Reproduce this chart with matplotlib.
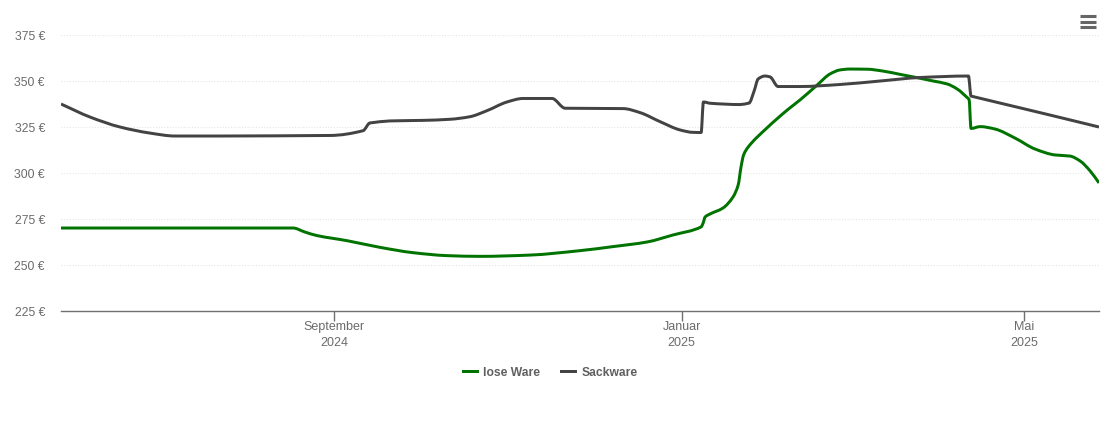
import numpy as np
import matplotlib
matplotlib.use('Agg')
import matplotlib.pyplot as plt
import matplotlib.dates as mdates
from matplotlib.lines import Line2D
from matplotlib.path import Path
from matplotlib.patches import PathPatch

# days relative to 1 Sep 2024, prices in euro
start = np.datetime64('2024-09-01T00:00')

lose_days = [-95.8, -18.9, -14.4, -10.2, -6, 4.6, 16.1, 27.7, 39.6, 51.2, 68.8, 86.3, 97.9, 109.8, 118.9,
	128.8, 129.5, 130.2, 131.9, 136.5, 140, 141.8, 142.8, 143.7, 145.3, 151.9, 159, 163.5, 169.5, 174,
	177.5, 181.1, 187, 192.6, 198.6, 204.6, 210.2, 215.1, 218.6, 222.8, 223.5, 226.7, 231.9, 238.9, 246,
	253, 258.2, 261.8, 265.3, 268.4]
lose_price = [270.1, 270.1, 270.1, 267.9, 266, 263.2, 259.6, 256.7, 255.1, 254.7, 255.4, 257.8, 260, 262.5, 266.3,
	270.7, 272.8, 276.1, 277.7, 281, 287, 293.5, 303.3, 309.8, 314.1, 324.5, 334.2, 339.7, 347.8, 353.8,
	356, 356.5, 356.4, 355.4, 353.6, 351.8, 350, 348.4, 345.7, 340.1, 324.2, 325.2, 323.9, 319, 313,
	309.8, 309.2, 306.5, 301.1, 294.6]

sack_days = [-95.8, -85.6, -75.1, -64.6, -55.8, -40, -1.4, 10.2, 12.6, 19.6, 31.2, 40.7, 47.7, 53.7, 60.7,
	66.3, 76.5, 81.1, 101.4, 107.4, 114.4, 121.4, 125.9, 128.8, 129.6, 132, 142.5, 145.6, 147.4, 148.8,
	151.2, 153, 155.8, 163.5, 177.5, 191.6, 205.6, 222.6, 223.5, 233.7, 251.2, 268.4]
sack_price = [337.5, 330.4, 325, 321.7, 320.1, 320.1, 320.4, 323, 327.2, 328.3, 328.6, 329.2, 330.6, 333.9, 338.6,
	340.5, 340.5, 335.2, 335, 332.8, 327.9, 323.4, 322.1, 322, 338.6, 337.9, 337.2, 338, 344.6, 351.1,
	352.7, 352.2, 347, 347, 348.1, 350, 351.9, 352.7, 341.8, 338, 331.5, 325]

y_ticks = [225, 250, 275, 300, 325, 350, 375]
x_ticks = ['2024-09-01', '2025-01-01', '2025-05-01']
x_labels = ['September\n2024', 'Januar\n2025', 'Mai\n2025']

GREEN = '#007300'
DARK = '#434343'
LINE_W = 2.15

def toDates(days):
	return start + (np.array(days) * 24 * 60).astype('timedelta64[m]')

def smoothPath(days, price):
	# the original uses a spline, so join the read points with monotone bezier pieces
	x = mdates.date2num(toDates(days))
	y = np.array(price, dtype=float)
	h = np.diff(x)
	s = np.diff(y) / h
	m = np.zeros(len(x))
	for i in range(1, len(x) - 1):
		if s[i - 1] * s[i] > 0:
			a, b = sorted([abs(s[i - 1]), abs(s[i])])
			if b > 8 * a:
				# next to a jump: keep the flat side straight
				m[i] = a * np.sign(s[i])
			else:
				m[i] = 2 * s[i - 1] * s[i] / (s[i - 1] + s[i])
	m[0], m[-1] = s[0], s[-1]
	verts = [(x[0], y[0])]
	codes = [Path.MOVETO]
	for i in range(len(h)):
		verts.append((x[i] + h[i] / 3, y[i] + m[i] * h[i] / 3))
		verts.append((x[i + 1] - h[i] / 3, y[i + 1] - m[i + 1] * h[i] / 3))
		verts.append((x[i + 1], y[i + 1]))
		codes += [Path.CURVE4] * 3
	return Path(verts, codes)

plt.rcParams['font.family'] = ['Liberation Sans', 'DejaVu Sans']

W, H = 1110, 422
fig = plt.figure(figsize=(W / 100, H / 100), dpi=100)
ax = fig.add_axes([61 / W, 1 - 311 / H, 1038 / W, 276 / H])

ax.add_patch(PathPatch(smoothPath(lose_days, lose_price), fill=False, edgecolor=GREEN, lw=LINE_W,
	joinstyle='round', zorder=3))
ax.add_patch(PathPatch(smoothPath(sack_days, sack_price), fill=False, edgecolor=DARK, lw=LINE_W,
	joinstyle='round', zorder=3))

ax.set_xlim(toDates([-95.8])[0], toDates([268.4])[0])
ax.set_ylim(225, 375)
for s in ['top', 'left', 'right']:
	ax.spines[s].set_visible(False)
ax.spines['bottom'].set_color('#707070')
ax.spines['bottom'].set_linewidth(1)

ax.set_yticks(y_ticks)
ax.set_yticklabels(['%d €' % v for v in y_ticks], color='#6b6b6b', fontsize=8.8)
ax.tick_params(axis='y', length=0, pad=11.5)
ax.set_xticks([mdates.date2num(np.datetime64(d)) for d in x_ticks])
ax.set_xticklabels(x_labels, color='#6b6b6b', fontsize=9, linespacing=1.45)
ax.tick_params(axis='x', length=7, width=1, color='#707070', pad=0.5)
ax.grid(axis='y', color='#e6e6e6', lw=0.8, ls=(0, (1, 1.5)), zorder=0)
ax.set_axisbelow(True)

handles = [Line2D([], [], color=GREEN, lw=LINE_W, label='lose Ware'),
	Line2D([], [], color=DARK, lw=LINE_W, label='Sackware')]
leg = ax.legend(handles=handles, loc='center', bbox_to_anchor=(550 / W, 1 - 372.5 / H), bbox_transform=fig.transFigure,
	ncol=2, frameon=False, handlelength=1.15, handletextpad=0.55, columnspacing=1.7,
	prop={'size': 8.7, 'weight': 'bold'})
for t in leg.get_texts():
	t.set_color('#606060')

# menu icon in the top right corner
for py in [16, 21.5, 27]:
	fig.add_artist(Line2D([1080 / W, 1096 / W], [1 - py / H, 1 - py / H], color='#666666', lw=2.2,
		solid_capstyle='butt'))

fig.savefig('out.png', dpi=100)
